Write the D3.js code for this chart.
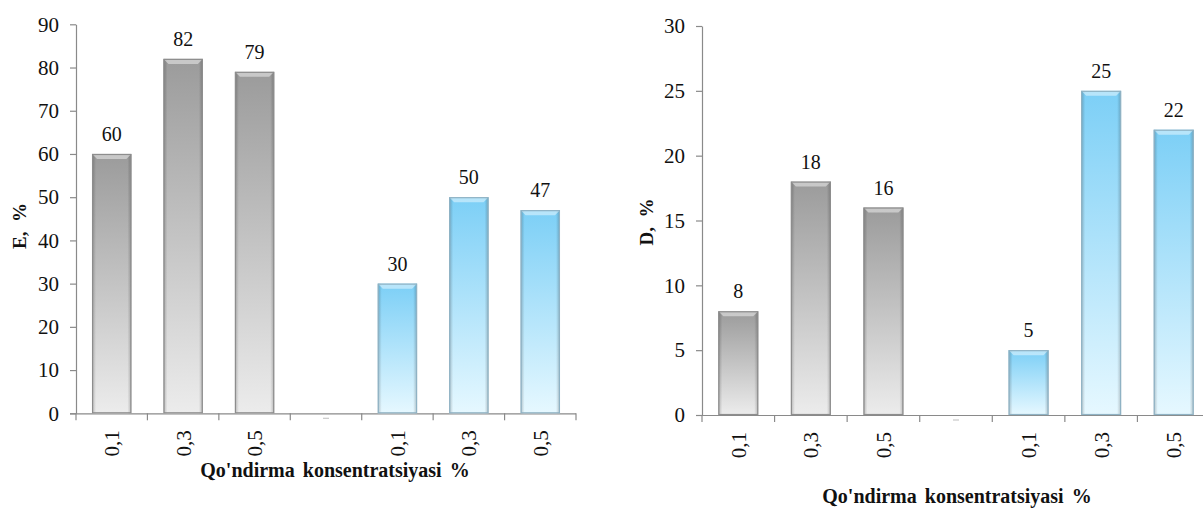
<!DOCTYPE html>
<html>
<head>
<meta charset="utf-8">
<script src="https://cdn.jsdelivr.net/npm/d3@7"></script>
<style>
  html, body { margin: 0; padding: 0; background: #fff; overflow: hidden; }
  svg { display: block; }
</style>
</head>
<body>
<svg id="chart" width="1203" height="511"></svg>
<script>
// Category labels along the x axis (the 4th slot is an empty separator)
const categories = ["0,1", "0,3", "0,5", "", "0,1", "0,3", "0,5"];
// Series colour group for each slot
const groups = ["grey", "grey", "grey", null, "blue", "blue", "blue"];
// Efficiency E, %
const valuesE = [60, 82, 79, null, 30, 50, 47];
// Degree D, %
const valuesD = [8, 18, 16, null, 5, 25, 22];
// Y tick values
const ticksE = [0, 10, 20, 30, 40, 50, 60, 70, 80, 90];
const ticksD = [0, 5, 10, 15, 20, 25, 30];

const xTitle = "Qo'ndirma konsentratsiyasi %";

const FONT = "Liberation Serif, Tinos, Times New Roman, DejaVu Serif, serif";

const svg = d3.select("#chart").attr("font-family", FONT);
const defs = svg.append("defs");

// Vertical gradients for bar bodies
function vGrad(id, top, bottom) {
  const g = defs.append("linearGradient").attr("id", id)
    .attr("x1", 0).attr("y1", 0).attr("x2", 0).attr("y2", 1);
  g.append("stop").attr("offset", "0%").attr("stop-color", top);
  g.append("stop").attr("offset", "100%").attr("stop-color", bottom);
}
vGrad("grad-grey", "#9b9b9b", "#ececec");
vGrad("grad-blue", "#7ccff6", "#e6f8ff");

// Horizontal shading for the bevelled sides
const side = defs.append("linearGradient").attr("id", "grad-side")
  .attr("x1", 0).attr("y1", 0).attr("x2", 1).attr("y2", 0);
[[0, 0.22], [0.1, 0.0], [0.9, 0.0], [1, 0.22]].forEach(([o, a]) =>
  side.append("stop").attr("offset", o).attr("stop-color", "#000").attr("stop-opacity", a));

const palette = {
  grey: { fill: "url(#grad-grey)", stroke: "#8d8d8d" },
  blue: { fill: "url(#grad-blue)", stroke: "#8fb2c4" }
};

const axisColor = "#8a8a8a";

function panel(opts) {
  const { values, ticks, yMax, x0, x1, yTop, yBottom, yTitle, yTitleX, yTitleY, xTitleX, xTitleY } = opts;
  const g = svg.append("g");

  const x = d3.scaleBand()
    .domain(d3.range(categories.length))
    .range([x0, x1])
    .paddingInner(0.45)
    .paddingOuter(0.225);

  const y = d3.scaleLinear().domain([0, yMax]).range([yBottom, yTop]);

  // Y axis
  const yAxis = g.append("g")
    .attr("transform", `translate(${x0},0)`)
    .call(d3.axisLeft(y).tickValues(ticks).tickSize(6).tickPadding(11).tickSizeOuter(0));
  yAxis.attr("font-family", FONT).attr("font-size", 21);
  yAxis.select(".domain").attr("stroke", axisColor).attr("stroke-width", 1.2);
  yAxis.selectAll(".tick line").attr("stroke", axisColor).attr("stroke-width", 1.2);
  yAxis.selectAll(".tick text").attr("fill", "#111");

  // X axis with ticks on the category boundaries
  const xAxis = g.append("g")
    .attr("transform", `translate(0,${yBottom})`)
    .call(d3.axisBottom(x).tickSize(0).tickSizeOuter(0).tickFormat(i => categories[i]));
  xAxis.attr("font-family", FONT).attr("font-size", 21);
  xAxis.select(".domain").attr("stroke", axisColor).attr("stroke-width", 1.2)
    .attr("d", `M${x0 - 6},0.5H${x1}`);
  xAxis.selectAll(".tick text")
    .attr("fill", "#111")
    .attr("transform", "rotate(-90)")
    .attr("x", -17).attr("y", 0).attr("dy", "0.35em")
    .attr("text-anchor", "end");

  const step = x.step();
  const bounds = d3.range(categories.length + 1).map(i => x0 + i * step);
  xAxis.selectAll(".bound").data(bounds).join("line")
    .attr("class", "bound")
    .attr("x1", d => d).attr("x2", d => d)
    .attr("y1", 0).attr("y2", 7)
    .attr("stroke", axisColor).attr("stroke-width", 1.2);

  // faint marker under the empty separator slot
  categories.forEach((c, i) => {
    if (c === "") {
      const cx = x(i) + x.bandwidth() / 2;
      xAxis.append("line")
        .attr("x1", cx - 3).attr("x2", cx + 3)
        .attr("y1", 5).attr("y2", 5)
        .attr("stroke", "#c8c8c8").attr("stroke-width", 1.2);
    }
  });

  // Bars
  const data = values.map((v, i) => ({ i, v, grp: groups[i] })).filter(d => d.v !== null);
  const bars = g.append("g").selectAll("g.bar").data(data).join("g").attr("class", "bar");

  bars.append("rect")
    .attr("x", d => x(d.i)).attr("y", d => y(d.v))
    .attr("width", x.bandwidth()).attr("height", d => y(0) - y(d.v))
    .attr("fill", d => palette[d.grp].fill);

  bars.append("rect")
    .attr("x", d => x(d.i)).attr("y", d => y(d.v))
    .attr("width", x.bandwidth()).attr("height", d => y(0) - y(d.v))
    .attr("fill", "url(#grad-side)");

  // bevelled top highlight
  bars.append("path")
    .attr("d", d => {
      const l = x(d.i), r = l + x.bandwidth(), t = y(d.v);
      return `M${l},${t}L${r},${t}L${r - 5},${t + 5}L${l + 5},${t + 5}Z`;
    })
    .attr("fill", "#fff").attr("fill-opacity", 0.45);

  bars.append("rect")
    .attr("x", d => x(d.i) + 0.5).attr("y", d => y(d.v) + 0.5)
    .attr("width", x.bandwidth() - 1).attr("height", d => y(0) - y(d.v) - 1)
    .attr("fill", "none")
    .attr("stroke", d => palette[d.grp].stroke).attr("stroke-width", 1.2);

  // Value labels
  g.append("g").selectAll("text").data(data).join("text")
    .attr("x", d => x(d.i) + x.bandwidth() / 2)
    .attr("y", d => y(d.v) - 13)
    .attr("text-anchor", "middle")
    .attr("font-size", 20)
    .attr("fill", "#111")
    .text(d => d.v);

  // Axis titles
  g.append("text")
    .attr("transform", `translate(${yTitleX},${yTitleY}) rotate(-90)`)
    .attr("text-anchor", "middle")
    .attr("dy", "0.35em")
    .attr("font-size", 19).attr("font-weight", "bold")
    .attr("fill", "#111")
    .style("white-space", "pre")
    .text(yTitle);

  g.append("text")
    .attr("x", xTitleX).attr("y", xTitleY)
    .attr("text-anchor", "middle")
    .attr("font-size", 20).attr("font-weight", "bold")
    .attr("fill", "#111")
    .attr("word-spacing", 3)
    .text(xTitle);
}

panel({
  values: valuesE, ticks: ticksE, yMax: 90,
  x0: 76, x1: 576, yTop: 24.3, yBottom: 413.3,
  yTitle: "E,  %", yTitleX: 19, yTitleY: 226,
  xTitleX: 335, xTitleY: 477
});

panel({
  values: valuesD, ticks: ticksD, yMax: 30,
  x0: 702, x1: 1210, yTop: 26, yBottom: 415,
  yTitle: "D,  %", yTitleX: 646, yTitleY: 222,
  xTitleX: 957, xTitleY: 503
});
</script>
</body>
</html>
